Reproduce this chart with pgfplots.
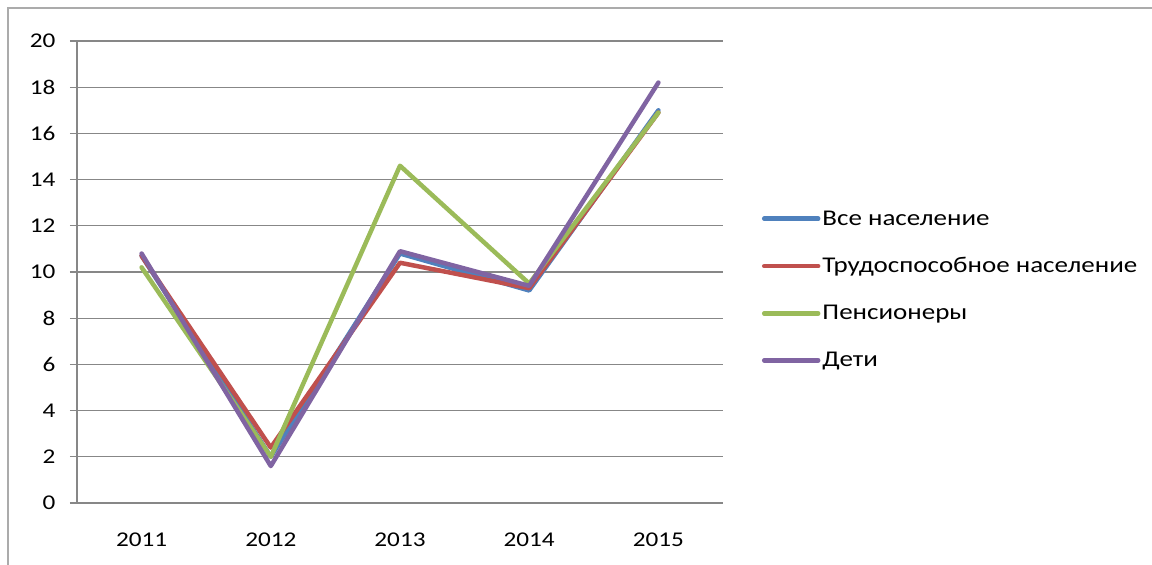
\documentclass[border=0pt]{standalone}
\usepackage{pgfplots}
\pgfplotsset{compat=1.18}
\usepackage{fontspec}
\setmainfont[FakeStretch=1.2]{Carlito}
\definecolor{sBlue}{HTML}{4F81BD}
\definecolor{sRed}{HTML}{C0504D}
\definecolor{sGreen}{HTML}{9BBB59}
\definecolor{sPurple}{HTML}{8064A2}
\definecolor{gridg}{HTML}{878787}
\begin{document}
\begin{tikzpicture}[x=1pt,y=1pt]
\path[use as bounding box] (0,0) rectangle (1152,565);
\draw[gridg!70, line width=1.2pt] (8,0) -- (8,557) -- (1152,557);
\begin{axis}[
  at={(77pt,62pt)}, anchor=south west,
  scale only axis, width=646pt, height=462pt,
  xmin=-0.5, xmax=4.5, ymin=0, ymax=20,
  xtick={0,1,2,3,4}, xticklabels={2011,2012,2013,2014,2015},
  extra x ticks={-0.5,0.5,1.5,2.5,3.5,4.5}, extra x tick labels={},
  extra x tick style={major tick length=7pt, tick style={gridg, line width=1.2pt}, grid=none},
  ytick={0,2,...,20},
  ymajorgrids, grid style={gridg, line width=1.2pt},
  axis x line*=bottom, axis y line*=left,
  axis line style={gridg, line width=1.2pt, -},
  x axis line style={draw=gridg},
  tick align=outside,
  major tick length=7pt,
  xtick style={draw=none},
  ytick style={gridg, line width=1.2pt},
  tick label style={font=\fontsize{21}{24}\selectfont, text=black},
  xticklabel style={yshift=-19pt},
  yticklabel style={xshift=-11pt},
  /pgf/number format/assume math mode=true,
  legend style={at={(1.060,0.462)}, anchor=west, draw=none, fill=none,
    font=\fontsize{22.5}{26}\selectfont, row sep=27pt,
    legend cell align=left, inner sep=0pt},
  legend image code/.code={\draw[#1, line cap=round] (0pt,0pt) -- (54pt,0pt);},
  every axis plot/.append style={line width=4.5pt, line join=round, line cap=round},
]
\addplot[sBlue] coordinates {(0,10.7) (1,2.0) (2,10.8) (3,9.2) (4,17.0)};
\addplot[sRed] coordinates {(0,10.7) (1,2.4) (2,10.4) (3,9.3) (4,16.9)};
\addplot[sGreen] coordinates {(0,10.2) (1,2.0) (2,14.6) (3,9.5) (4,16.9)};
\addplot[sPurple] coordinates {(0,10.8) (1,1.6) (2,10.9) (3,9.4) (4,18.2)};
\legend{Все население, Трудоспособное население, Пенсионеры, Дети}
\end{axis}
\end{tikzpicture}
\end{document}
